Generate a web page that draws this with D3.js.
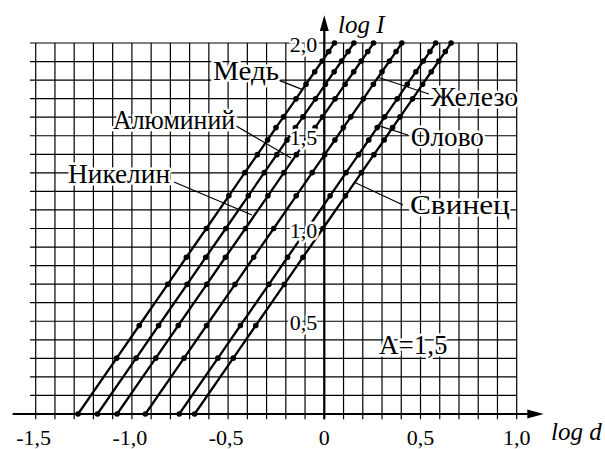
<!DOCTYPE html>
<html><head><meta charset="utf-8">
<script src="https://cdn.jsdelivr.net/npm/d3@7"></script>
<style>body{margin:0;background:#fff}svg{display:block}</style>
</head><body>
<svg id="c" width="605" height="449"></svg>
<script>
// ---- data ----
const materials = ["Медь", "Алюминий", "Никелин", "Железо", "Олово", "Свинец"];
// log I at the plotted points (I = 1,2,3,5,7,10,15,20,25,30,35,40,50,60,70,80,90,100)
const logI = [0, 0.301, 0.477, 0.699, 0.845, 1.0, 1.176, 1.301, 1.398, 1.477, 1.544, 1.602, 1.699, 1.778, 1.845, 1.903, 1.954, 2.0];
// log d of each material at those points
const logdCopper   = [-1.280, -1.079, -0.962, -0.814, -0.717, -0.613, -0.496, -0.413, -0.348, -0.295, -0.251, -0.212, -0.147, -0.095, -0.050, -0.011, 0.023, 0.053];
const logdAluminum = [-1.179, -0.978, -0.861, -0.713, -0.616, -0.512, -0.395, -0.312, -0.247, -0.194, -0.150, -0.111, -0.046, 0.006, 0.051, 0.090, 0.124, 0.154];
const logdNickelin = [-1.077, -0.876, -0.759, -0.611, -0.514, -0.410, -0.293, -0.210, -0.145, -0.092, -0.048, -0.009, 0.056, 0.108, 0.153, 0.192, 0.226, 0.256];
const logdIron     = [-0.930, -0.729, -0.612, -0.464, -0.367, -0.263, -0.146, -0.063, 0.002, 0.055, 0.099, 0.138, 0.203, 0.255, 0.300, 0.339, 0.373, 0.403];
const logdTin      = [-0.754, -0.553, -0.436, -0.288, -0.191, -0.087, 0.030, 0.113, 0.178, 0.231, 0.275, 0.314, 0.379, 0.431, 0.476, 0.515, 0.549, 0.579];
const logdLead     = [-0.674, -0.473, -0.356, -0.208, -0.111, -0.007, 0.110, 0.193, 0.258, 0.311, 0.355, 0.394, 0.459, 0.511, 0.556, 0.595, 0.629, 0.659];
const seriesLogd = [logdCopper, logdAluminum, logdNickelin, logdIron, logdTin, logdLead];

const xTicks = [-1.5, -1.0, -0.5, 0, 0.5, 1.0];
const xTickLabels = ["-1,5", "-1,0", "-0,5", "0", "0,5", "1,0"];
const yTicks = [0.5, 1.0, 1.5, 2.0];
const yTickLabels = ["0,5", "1,0", "1,5", "2,0"];
const slopeLabel = "A=1,5";
const xTitle = "log d";
const yTitle = "log I";

// ---- layout ----
const FONT = '"Liberation Serif"';
const svg = d3.select("#c");
const x = d3.scaleLinear().domain([-1.5, 1.0]).range([35.7, 516.7]);
const y = d3.scaleLinear().domain([0, 2.0]).range([414, 43]);

// grid
const gx = d3.range(-15, 11).map(i => i / 10);
const gy = d3.range(0, 21).map(i => i / 10);
const grid = svg.append("g").attr("stroke", "#000").attr("stroke-width", 1.2).attr("fill", "none");
grid.selectAll(".v").data(gx).join("line")
  .attr("x1", d => x(d)).attr("x2", d => x(d))
  .attr("y1", y(2.0)).attr("y2", y(-0.028));
grid.selectAll(".h").data(gy).join("line")
  .attr("x1", x(-1.53)).attr("x2", x(1.0))
  .attr("y1", d => y(d)).attr("y2", d => y(d));

// axes
const ax = svg.append("g").attr("stroke", "#000").attr("stroke-width", 2.2);
ax.append("line").attr("x1", x(-1.62)).attr("x2", x(1.08)).attr("y1", y(0)).attr("y2", y(0));
ax.append("line").attr("x1", x(0)).attr("x2", x(0)).attr("y1", y(-0.028)).attr("y2", y(2.09));
svg.append("path").attr("fill", "#000")
  .attr("d", `M${x(1.14)},${y(0)} L${x(1.055)},${y(0) - 4.5} L${x(1.055)},${y(0) + 4.5} Z`);
svg.append("path").attr("fill", "#000")
  .attr("d", `M${x(0)},${y(2.15)} L${x(0) - 4.5},${y(2.065)} L${x(0) + 4.5},${y(2.065)} Z`);

// leaders [from, to] in data coords
const leaders = [
  [[-0.231, 1.797], [-0.116, 1.750]],
  [[-0.458, 1.553], [-0.173, 1.380]],
  [[-0.781, 1.251], [-0.376, 1.073]],
  [[0.282, 1.814], [0.544, 1.725]],
  [[0.284, 1.553], [0.435, 1.504]],
  [[0.159, 1.248], [0.409, 1.127]]
];
const labelAt = [[-0.578, 1.801], [-1.098, 1.534], [-1.332, 1.243], [0.555, 1.660], [0.450, 1.445], [0.445, 1.078]];
const labelWidth = [66, 122, 102, 87, 73, 100];

svg.append("g").attr("stroke", "#000").attr("stroke-width", 1.2)
  .selectAll("line").data(leaders).join("line")
  .attr("x1", d => x(d[0][0])).attr("y1", d => y(d[0][1]))
  .attr("x2", d => x(d[1][0])).attr("y2", d => y(d[1][1]));

// series lines and points
const line = d3.line().x(d => x(d[0])).y(d => y(d[1]));
const seriesData = seriesLogd.map(arr => arr.map((v, i) => [v, logI[i]]));
const gS = svg.append("g");
seriesData.forEach(pts => {
  gS.append("path").datum(pts).attr("d", line)
    .attr("fill", "none").attr("stroke", "#000").attr("stroke-width", 2.3);
  gS.selectAll(null).data(pts).join("circle")
    .attr("cx", d => x(d[0])).attr("cy", d => y(d[1])).attr("r", 2.8).attr("fill", "#000");
});

function txt(sel, size, haloOn) {
  sel.attr("font-size", size).style("font-family", FONT).attr("fill", "#000");
  if (haloOn) sel.attr("stroke", "#fff").attr("stroke-width", 5).attr("stroke-linejoin", "round")
    .attr("paint-order", "stroke");
  return sel;
}

// material labels
txt(svg.append("g").selectAll("text").data(materials).join("text")
  .attr("x", (d, i) => x(labelAt[i][0])).attr("y", (d, i) => y(labelAt[i][1]))
  .attr("textLength", (d, i) => labelWidth[i]).attr("lengthAdjust", "spacingAndGlyphs")
  .text(d => d), 27, true);

// x tick labels
txt(svg.append("g").selectAll("text").data(xTicks).join("text")
  .attr("text-anchor", "middle")
  .attr("x", d => x(d) - (d < 0 ? 2 : 0)).attr("y", y(0) + 31)
  .text((d, i) => xTickLabels[i]), 22, false);

// y tick labels
txt(svg.append("g").selectAll("text").data(yTicks).join("text")
  .attr("text-anchor", "end")
  .attr("x", x(0) - 7).attr("y", d => y(d) + 9)
  .text((d, i) => yTickLabels[i]), 22, true);

// slope label
txt(svg.append("text").attr("x", x(0.284)).attr("y", y(0.326)).text(slopeLabel), 27, true);

// axis titles
txt(svg.append("text").attr("x", x(0.071)).attr("y", y(2.054)).text(yTitle), 25, false)
  .style("font-style", "italic");
txt(svg.append("text").attr("x", x(1.178)).attr("y", y(-0.14)).text(xTitle), 25, false)
  .style("font-style", "italic");
</script>
</body></html>
